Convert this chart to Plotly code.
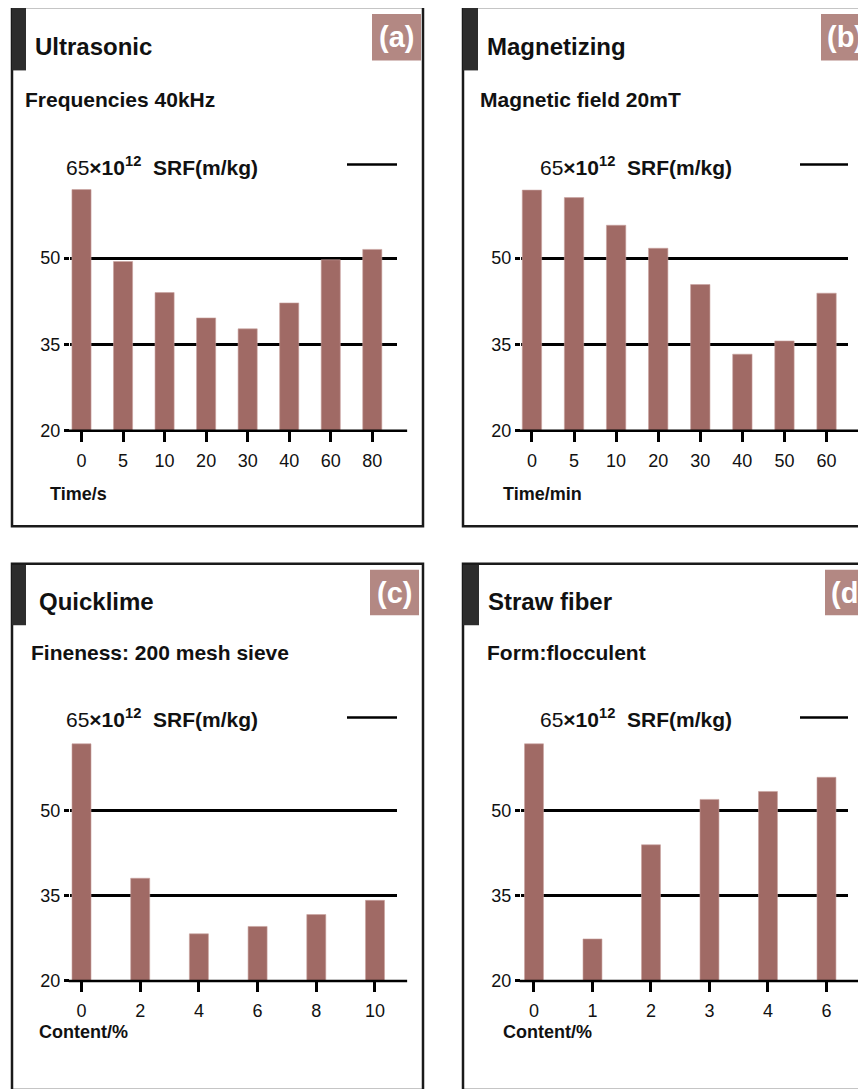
import plotly.graph_objects as go

# The page body has an 8px margin, so the figure is sized to fill the rest of the window
OFF = 8
W, H = 866 - OFF, 1089 - OFF

# ---------------- data ----------------
cats_a = ["0", "5", "10", "20", "30", "40", "60", "80"]
srf_a = [61.9, 49.4, 44.0, 39.6, 37.7, 42.2, 49.7, 51.5]

cats_b = ["0", "5", "10", "20", "30", "40", "50", "60"]
srf_b = [61.8, 60.5, 55.7, 51.7, 45.4, 33.3, 35.6, 43.9]

cats_c = ["0", "2", "4", "6", "8", "10"]
srf_c = [61.8, 38.1, 28.3, 29.6, 31.7, 34.2]

cats_d = ["0", "1", "2", "3", "4", "6"]
srf_d = [61.8, 27.4, 44.0, 52.0, 53.4, 55.9]

y_ticks = [20, 35, 50]
y_range = [20, 68]

titles = ["Ultrasonic", "Magnetizing", "Quicklime", "Straw fiber"]
subtitles = ["Frequencies 40kHz", "Magnetic field 20mT", "Fineness: 200 mesh sieve", "Form:flocculent"]
xtitles = ["Time/s", "Time/min", "Content/%", "Content/%"]
labels = ["(a)", "(b)", "(c)", "(d)"]

# ---------------- styling ----------------
BAR = "#A06A65"
BOX = "#B38883"
TAB = "#2D2D2D"
INK = "#111111"
FONT = "Liberation Sans, Arial, sans-serif"


def fx(x):
    return (x - OFF) / W


def fy(y):
    return 1 - (y - OFF) / H


panels = [
    dict(cats=cats_a, vals=srf_a, xd=(70, 397), yd=(155.8, 434.7), xr=[-0.277, 7.595], bw=0.46,
         border=(12, 7, 423, 531), tab=(12, 8, 26, 71), box=(372, 14, 421, 61),
         title=(33, 46.7), sub=(23, 100), leg=(64, 167), legline=(347, 397, 166), xt=(48, 499), stand=4),
    dict(cats=cats_b, vals=srf_b, xd=(521, 848), yd=(155.8, 434.7), xr=[-0.26, 7.51], bw=0.46,
         border=(463, 7, 874, 531), tab=(463, 8, 478, 71), box=(821, 14, 870, 61),
         title=(485, 46.7), sub=(478, 100), leg=(538, 167), legline=(800, 848, 166), xt=(501, 499), stand=4),
    dict(cats=cats_c, vals=srf_c, xd=(70, 397), yd=(715.2, 990), xr=[-0.196, 5.375], bw=0.324,
         border=(12, 569, 423, 1100), tab=(12, 570, 26, 631), box=(370, 575, 419, 621),
         title=(36.7, 606.7), sub=(29, 659), leg=(64, 725), legline=(347, 397, 724), xt=(37, 1041.7), stand=3),
    dict(cats=cats_d, vals=srf_d, xd=(521, 848), yd=(715.2, 990), xr=[-0.222, 5.368], bw=0.324,
         border=(463, 569, 874, 1100), tab=(463, 570, 479, 631), box=(825, 575, 874, 621),
         title=(486, 606.7), sub=(485, 659), leg=(538, 725), legline=(800, 848, 724), xt=(501, 1041.7), stand=3),
]

fig = go.Figure()
shapes = []
annotations = []
layout_axes = {}

for i, p in enumerate(panels):
    n = "" if i == 0 else str(i + 1)
    xa, ya = "x" + n, "y" + n
    fig.add_trace(go.Bar(
        x=p["cats"], y=p["vals"], xaxis=xa, yaxis=ya, width=p["bw"],
        marker=dict(color=BAR, line=dict(color="#C9A3A0", width=0.6)),
        showlegend=False, hoverinfo="x+y",
    ))
    layout_axes["xaxis" + n] = dict(
        type="category", domain=[fx(p["xd"][0]), fx(p["xd"][1])], anchor=ya,
        range=p["xr"], showgrid=False, zeroline=False, showline=False,
        ticks="outside", ticklen=10, tickwidth=2.5, tickcolor="#000",
        tickfont=dict(family=FONT, size=18, color=INK), ticklabelstandoff=p["stand"],
    )
    layout_axes["yaxis" + n] = dict(
        domain=[fy(p["yd"][1]), fy(p["yd"][0])], anchor=xa,
        range=y_range, tickvals=y_ticks, showgrid=True, gridcolor="#000", gridwidth=2.5,
        zeroline=False, showline=False,
        ticks="outside", ticklen=5, tickwidth=2.5, tickcolor="#000",
        tickfont=dict(family=FONT, size=18, color=INK),
    )
    # x-axis baseline, running a little past the gridlines
    shapes.append(dict(type="line", xref=xa + " domain", yref=ya + " domain",
                       x0=-0.004, x1=1.031, y0=0, y1=0, line=dict(color="#000", width=2.5)))
    # panel border
    b = p["border"]
    shapes.append(dict(type="rect", xref="paper", yref="paper",
                       x0=fx(b[0]), x1=fx(b[2]), y0=fy(b[3]), y1=fy(b[1]),
                       line=dict(color="#1A1A1A", width=2.5), layer="above"))
    # dark tab
    t = p["tab"]
    shapes.append(dict(type="rect", xref="paper", yref="paper",
                       x0=fx(t[0]), x1=fx(t[2]), y0=fy(t[3]), y1=fy(t[1]),
                       fillcolor=TAB, line=dict(width=0)))
    # label box
    bx = p["box"]
    shapes.append(dict(type="rect", xref="paper", yref="paper",
                       x0=fx(bx[0]), x1=fx(bx[2]), y0=fy(bx[3]), y1=fy(bx[1]),
                       fillcolor=BOX, line=dict(width=0)))
    annotations.append(dict(text="<b>" + labels[i] + "</b>", xref="paper", yref="paper",
                            x=fx((bx[0] + bx[2]) / 2), y=fy((bx[1] + bx[3]) / 2),
                            xanchor="center", yanchor="middle", showarrow=False,
                            font=dict(family=FONT, size=29, color="#FFFFFF")))
    # legend line
    ll = p["legline"]
    shapes.append(dict(type="line", xref="paper", yref="paper",
                       x0=fx(ll[0]), x1=fx(ll[1]), y0=fy(ll[2]), y1=fy(ll[2]),
                       line=dict(color="#000", width=2.5)))
    # texts
    annotations.append(dict(text="<b>" + titles[i] + "</b>", xref="paper", yref="paper",
                            x=fx(p["title"][0]), y=fy(p["title"][1]), xanchor="left", yanchor="middle",
                            showarrow=False, font=dict(family=FONT, size=24, color=INK)))
    annotations.append(dict(text="<b>" + subtitles[i] + "</b>", xref="paper", yref="paper",
                            x=fx(p["sub"][0]), y=fy(p["sub"][1]), xanchor="left", yanchor="middle",
                            showarrow=False, font=dict(family=FONT, size=21, color=INK)))
    annotations.append(dict(text="65<b>×10<sup>12</sup>\u00a0\u00a0SRF(m/kg)</b>", xref="paper", yref="paper",
                            x=fx(p["leg"][0]), y=fy(p["leg"][1]), xanchor="left", yanchor="middle",
                            showarrow=False, font=dict(family=FONT, size=21, color=INK)))
    annotations.append(dict(text="<b>" + xtitles[i] + "</b>", xref="paper", yref="paper",
                            x=fx(p["xt"][0]), y=fy(p["xt"][1]), xanchor="left", yanchor="middle",
                            showarrow=False, font=dict(family=FONT, size=18, color=INK)))

fig.update_layout(
    width=W, height=H, margin=dict(l=0, r=0, t=0, b=0),
    paper_bgcolor="#FFFFFF", plot_bgcolor="rgba(0,0,0,0)",
    shapes=shapes, annotations=annotations, showlegend=False,
    font=dict(family=FONT, color=INK),
    **layout_axes,
)

fig.write_html("out.html")
